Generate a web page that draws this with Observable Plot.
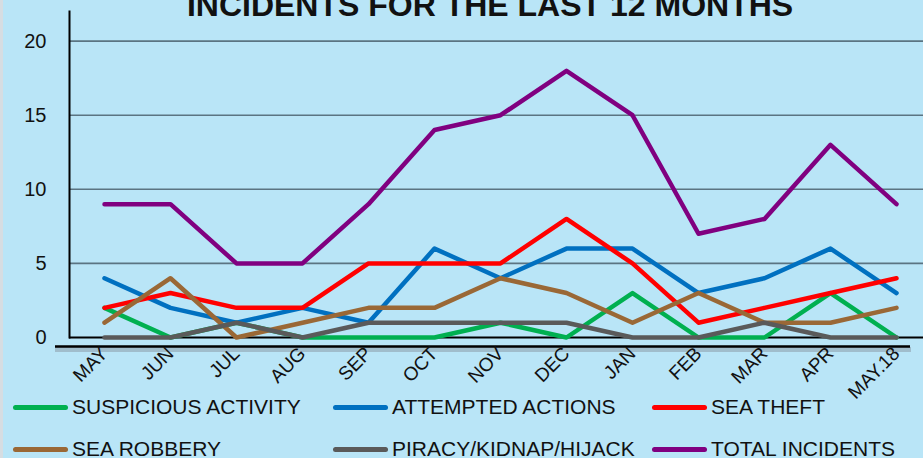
<!DOCTYPE html>
<html>
<head>
<meta charset="utf-8">
<script src="https://cdn.jsdelivr.net/npm/d3@7"></script>
<script src="https://cdn.jsdelivr.net/npm/@observablehq/plot@0.6"></script>
<style>
  html, body { margin: 0; padding: 0; background: #b9e5f7; }
  #wrap { position: relative; width: 923px; height: 458px; overflow: hidden; background: #b9e5f7; font-family: "Liberation Sans", Arial, sans-serif; }
  #edge { position: absolute; left: 0; top: 0; width: 3px; height: 458px; background: #d6dde2; }
  #title { position: absolute; left: 0; width: 980px; top: -13px; text-align: center; font-weight: bold; font-size: 32px; color: #111; white-space: nowrap; }
  #chart { position: absolute; left: 0; top: 0; }
  #legend { position: absolute; left: 0; top: 392px; width: 923px; height: 66px; }
  .item { position: absolute; display: flex; align-items: center; font-size: 21px; color: #111; white-space: nowrap; height: 30px; }
  .sw { width: 55px; height: 5px; border-radius: 3px; margin-right: 4px; }
</style>
</head>
<body>
<div id="wrap">
  <div id="edge"></div>
  <div id="chart"></div>
  <div id="title">INCIDENTS FOR THE LAST 12 MONTHS</div>
  <div id="legend"></div>
</div>
<script>
const months = ["MAY","JUN","JUL","AUG","SEP","OCT","NOV","DEC","JAN","FEB","MAR","APR","MAY.18"];
const seriesNames = ["SUSPICIOUS ACTIVITY","ATTEMPTED ACTIONS","SEA THEFT","SEA ROBBERY","PIRACY/KIDNAP/HIJACK","TOTAL INCIDENTS"];
const seriesColors = ["#00b050","#0070c0","#ff0000","#9a6836","#5a5a5a","#800080"];
const suspicious = [2,0,1,0,0,0,1,0,3,0,0,3,0];
const attempted  = [4,2,1,2,1,6,4,6,6,3,4,6,3];
const seaTheft   = [2,3,2,2,5,5,5,8,5,1,2,3,4];
const seaRobbery = [1,4,0,1,2,2,4,3,1,3,1,1,2];
const piracy     = [0,0,1,0,1,1,1,1,0,0,1,0,0];
const total      = [9,9,5,5,9,14,15,18,15,7,8,13,9];
const yTicks = [0,5,10,15,20];

const seriesValues = [suspicious, attempted, seaTheft, seaRobbery, piracy, total];
const rows = [];
seriesNames.forEach((name, i) => {
  months.forEach((m, j) => rows.push({series: name, month: m, value: seriesValues[i][j]}));
});

const plot = Plot.plot({
  width: 923,
  height: 458,
  marginLeft: 69,
  marginRight: 0,
  marginTop: 11,
  marginBottom: 121,
  style: {background: "transparent", fontFamily: "'Liberation Sans', Arial, sans-serif", color: "#111"},
  x: {type: "point", domain: months, range: [102, 897], padding: 0},
  y: {domain: [0, 22], range: [337, 11]},
  color: {domain: seriesNames, range: seriesColors},
  marks: [
    Plot.ruleY(yTicks.filter(d => d > 0), {stroke: "#5b7482", strokeWidth: 1.6}),
    Plot.ruleY([0], {stroke: "#9ab3c0", strokeWidth: 5, dy: 12, insetLeft: -14, insetRight: 12, strokeOpacity: 0.8}),
    Plot.ruleY([0], {stroke: "#000", strokeWidth: 2.5, dy: 9, insetLeft: -14, insetRight: 13}),
    Plot.ruleY([0], {stroke: "#000", strokeWidth: 2}),
    Plot.frame({anchor: "left", stroke: "#000", strokeWidth: 2}),
    Plot.axisY({ticks: yTicks, tickSize: 0, tickPadding: 23, fontSize: 20, label: null}),
    Plot.axisX({tickSize: 0, tickRotate: -45, tickPadding: 13, fontSize: 19, label: null}),
    Plot.line(rows, {x: "month", y: "value", z: "series", stroke: "series", strokeWidth: 4.5, strokeLinecap: "round", strokeLinejoin: "round"})
  ]
});
document.getElementById("chart").appendChild(plot);

// legend
const legend = document.getElementById("legend");
const colX = [13, 333, 652];
const rowY = [0, 42];
seriesNames.forEach((name, i) => {
  const it = document.createElement("div");
  it.className = "item";
  it.style.left = colX[i % 3] + "px";
  it.style.top = rowY[Math.floor(i / 3)] + "px";
  const sw = document.createElement("div");
  sw.className = "sw";
  sw.style.background = seriesColors[i];
  it.appendChild(sw);
  const t = document.createElement("span");
  t.textContent = name;
  it.appendChild(t);
  legend.appendChild(it);
});
</script>
</body>
</html>
